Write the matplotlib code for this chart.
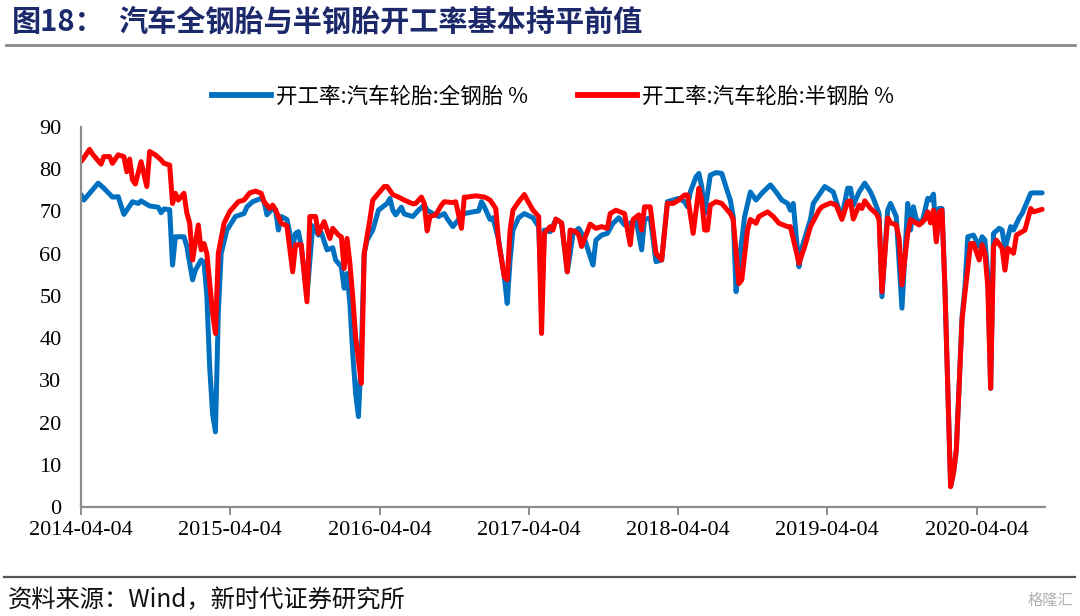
import matplotlib
matplotlib.use("Agg")
import matplotlib.pyplot as plt
import matplotlib.dates as mdates
import matplotlib.lines as mlines
import numpy as np
import pandas as pd

plt.rcParams['font.family'] = ['Noto Sans CJK SC', 'DejaVu Sans']

# ---------------- data (weeks since 2014-04-04, weekly observations) ----------------
start_date = "2014-04-04"

weeks_full = [0, 1, 3, 6, 8, 11, 13, 15, 18, 20, 21, 24, 27, 28, 29, 31, 32, 33, 36, 37,
              39, 40, 42, 43, 44, 45, 46, 47, 48, 49, 51, 54, 57, 58, 60, 63, 64, 65, 67, 68,
              69, 70, 72, 74, 75, 76, 77, 79, 81, 83, 84, 86, 88, 89, 91, 92, 93, 94, 95, 96,
              97, 98, 99, 100, 102, 104, 107, 108, 109, 110, 112, 113, 116, 118, 120, 121, 123, 125, 127, 128,
              130, 132, 134, 137, 139, 140, 141, 143, 144, 146, 148, 149, 150, 151, 153, 155, 158, 160, 161, 162,
              164, 166, 168, 170, 171, 172, 174, 176, 178, 179, 180, 182, 184, 186, 188, 190, 192, 194, 196, 197,
              199, 200, 201, 203, 205, 206, 209, 211, 212, 213, 215, 216, 217, 218, 220, 222, 224, 226, 227, 228,
              229, 230, 232, 234, 236, 238, 241, 243, 245, 247, 248, 249, 251, 252, 255, 256, 260, 263, 265, 266,
              268, 269, 270, 272, 274, 276, 277, 279, 280, 282, 283, 285, 287, 289, 290, 291, 292, 294, 296, 297,
              298, 299, 300, 301, 302, 303, 304, 305, 306, 308, 309, 310, 312, 314, 315, 316, 317, 318, 319, 321,
              322, 323, 325, 326, 328, 329, 332, 333, 336]
full_steel = [74.0, 72.7, 74.3, 76.7, 75.5, 73.4, 73.5, 69.3, 72.3, 71.9, 72.5, 71.3, 71.0, 69.7, 70.6, 70.4, 57.3, 64.0, 64.0, 61.7,
              53.8, 56.1, 58.5, 58.0, 50.0, 33.0, 22.0, 17.8, 46.0, 60.0, 65.6, 68.8, 69.5, 71.1, 72.3, 73.1, 72.3, 69.2, 70.7, 70.4,
              65.6, 68.8, 68.1, 61.7, 64.8, 65.2, 61.7, 50.0, 66.6, 64.4, 65.0, 60.9, 61.4, 58.5, 56.9, 51.8, 55.3, 48.2, 36.4, 26.9,
              21.4, 36.4, 60.1, 63.2, 65.6, 70.3, 71.9, 73.1, 70.3, 69.2, 71.0, 69.4, 68.8, 70.3, 71.5, 70.3, 69.5, 68.8, 69.5, 68.3,
              66.4, 68.1, 69.5, 69.9, 70.1, 72.3, 71.1, 68.1, 68.5, 63.2, 54.5, 48.2, 58.5, 65.6, 68.5, 69.5, 68.5, 66.4, 48.0, 65.6,
              65.2, 68.1, 67.3, 55.7, 60.0, 64.8, 66.0, 63.6, 59.3, 57.3, 63.2, 64.4, 64.8, 67.2, 68.5, 66.8, 67.2, 68.1, 60.9, 68.1,
              68.5, 63.2, 58.1, 58.5, 72.3, 72.5, 73.1, 72.3, 71.1, 74.6, 78.2, 79.0, 75.9, 69.5, 78.6, 79.2, 79.0, 74.7, 72.7, 68.8,
              51.0, 57.7, 68.8, 74.6, 72.7, 74.3, 76.3, 74.6, 72.7, 71.9, 70.3, 71.9, 56.9, 61.4, 68.1, 71.9, 75.9, 74.6, 70.3, 68.8,
              75.5, 75.5, 71.5, 74.6, 76.7, 74.6, 73.1, 69.5, 49.8, 70.3, 71.9, 68.8, 47.1, 71.9, 65.6, 71.1, 68.1, 67.3, 73.1, 72.7,
              74.1, 63.6, 70.7, 70.7, 52.2, 28.5, 5.0, 8.0, 13.5, 45.0, 52.0, 64.0, 64.4, 61.7, 64.0, 63.2, 55.0, 28.1, 64.8, 66.0,
              65.6, 61.2, 66.4, 65.6, 68.5, 69.5, 74.3, 74.4, 74.4]

weeks_semi = [0, 1, 3, 4, 7, 8, 10, 11, 13, 15, 16, 17, 18, 19, 21, 23, 24, 26, 28, 29,
              31, 32, 33, 34, 36, 37, 38, 39, 41, 42, 43, 44, 45, 46, 47, 48, 50, 52, 55, 57,
              59, 61, 63, 64, 66, 67, 68, 70, 72, 74, 75, 77, 79, 80, 82, 83, 85, 87, 88, 90,
              91, 92, 93, 94, 95, 96, 98, 99, 101, 102, 104, 106, 107, 109, 111, 113, 116, 117, 119, 120,
              121, 122, 124, 126, 127, 130, 131, 133, 134, 135, 138, 141, 142, 143, 145, 146, 148, 149, 150, 151,
              153, 155, 156, 158, 160, 161, 162, 164, 165, 166, 168, 170, 171, 173, 174, 175, 178, 180, 182, 184,
              185, 187, 190, 192, 193, 195, 196, 197, 199, 201, 203, 205, 207, 209, 211, 212, 214, 216, 217, 218,
              219, 220, 222, 224, 227, 228, 230, 231, 233, 234, 236, 237, 240, 242, 244, 247, 248, 251, 253, 255,
              258, 259, 262, 264, 266, 268, 269, 270, 272, 273, 274, 276, 278, 279, 280, 282, 283, 285, 286, 287,
              289, 290, 293, 295, 296, 297, 298, 299, 300, 301, 302, 303, 304, 305, 306, 308, 309, 311, 312, 314,
              315, 316, 317, 318, 319, 320, 322, 323, 324, 326, 327, 329, 330, 332, 333, 336]
semi_steel = [81.8, 82.7, 84.7, 83.6, 81.2, 83.0, 83.0, 81.4, 83.4, 83.0, 79.4, 82.4, 77.5, 76.5, 81.8, 75.9, 84.2, 83.4, 82.2, 81.4,
              81.0, 71.9, 74.3, 72.7, 74.3, 69.6, 67.2, 58.5, 66.8, 60.9, 62.4, 60.0, 53.0, 46.0, 41.1, 60.1, 67.2, 70.0, 72.3, 72.7,
              74.4, 74.8, 74.3, 72.3, 70.7, 71.5, 70.4, 67.2, 66.6, 55.7, 62.1, 62.1, 48.6, 68.8, 68.8, 64.8, 67.6, 63.6, 66.0, 64.4,
              64.0, 56.5, 63.6, 57.7, 49.8, 40.3, 29.3, 60.0, 68.1, 72.7, 74.3, 75.9, 75.9, 74.0, 73.4, 72.7, 71.8, 71.9, 73.4, 71.9,
              65.4, 68.8, 69.2, 71.5, 72.3, 72.1, 72.3, 66.0, 73.4, 73.4, 73.7, 73.4, 73.1, 72.7, 70.7, 62.8, 54.5, 53.8, 65.6, 70.3,
              72.3, 74.0, 72.7, 70.3, 68.8, 41.1, 64.8, 66.4, 65.6, 68.2, 67.3, 55.7, 65.6, 65.2, 64.4, 61.7, 67.0, 66.0, 66.4, 66.0,
              69.5, 70.3, 69.5, 62.1, 68.1, 69.2, 65.6, 71.1, 71.1, 60.1, 58.5, 71.9, 71.9, 72.7, 73.9, 73.9, 64.8, 75.5, 72.7, 65.6,
              65.6, 71.5, 72.3, 71.9, 69.5, 68.1, 52.9, 53.8, 65.6, 68.1, 67.2, 68.8, 69.9, 68.8, 67.2, 66.4, 66.4, 57.7, 61.7, 66.4,
              70.3, 71.1, 72.0, 71.5, 68.1, 72.3, 72.5, 68.2, 71.5, 70.7, 72.5, 70.7, 69.5, 68.1, 51.0, 68.5, 67.3, 66.8, 63.6, 52.6,
              64.8, 68.1, 66.8, 68.1, 69.9, 67.3, 70.3, 62.8, 69.9, 70.3, 52.2, 28.5, 4.8, 8.0, 13.5, 44.3, 50.6, 62.4, 62.4, 58.5,
              62.1, 60.1, 52.2, 28.1, 61.7, 63.2, 61.3, 56.1, 61.3, 60.1, 64.4, 65.2, 65.6, 70.7, 69.9, 70.5]

series_labels = ["开工率:汽车轮胎:全钢胎 %", "开工率:汽车轮胎:半钢胎 %"]
tick_labels = ["2014-04-04", "2015-04-04", "2016-04-04", "2017-04-04",
               "2018-04-04", "2019-04-04", "2020-04-04"]
y_ticks = [0, 10, 20, 30, 40, 50, 60, 70, 80, 90]

title_num = "图18："
title_text = "汽车全钢胎与半钢胎开工率基本持平前值"
source_text = "资料来源：Wind，新时代证券研究所"

# ---------------- figure ----------------
base = pd.Timestamp(start_date)
d_full = base + pd.to_timedelta(np.array(weeks_full) * 7, unit="D")
d_semi = base + pd.to_timedelta(np.array(weeks_semi) * 7, unit="D")

fig = plt.figure(figsize=(10.8, 6.16), dpi=100)
ax = fig.add_axes([81 / 1080, 1 - 507 / 616, (1045 - 81) / 1080, (507 - 127) / 616])

blue = "#0070C0"
red = "#FF0000"
ax.plot(d_full, full_steel, color=blue, lw=3.6, solid_joinstyle="round", solid_capstyle="round")
ax.plot(d_semi, semi_steel, color=red, lw=3.6, solid_joinstyle="round", solid_capstyle="round")

ax.set_ylim(0, 90)
ax.set_yticks(y_ticks)
ax.set_xlim(base, base + pd.Timedelta(days=337 * 7))
ax.set_xticks([pd.Timestamp(t) for t in tick_labels])
ax.set_xticklabels(tick_labels)

serif = ["Liberation Serif", "DejaVu Serif"]
for lab in ax.get_xticklabels() + ax.get_yticklabels():
    lab.set_fontfamily(serif)
    lab.set_fontsize(16)
    lab.set_color("#000000")

for s in ["top", "right"]:
    ax.spines[s].set_visible(False)
for s in ["left", "bottom"]:
    ax.spines[s].set_color("#8c8c8c")
    ax.spines[s].set_linewidth(1.6)
ax.tick_params(axis="x", direction="out", length=6, width=1.4, color="#8c8c8c", pad=4)
ax.tick_params(axis="y", direction="out", length=0, pad=14)

# legend
h1 = mlines.Line2D([], [], color=blue, lw=4.2)
h2 = mlines.Line2D([], [], color=red, lw=4.2)
fig.legend([h1, h2], series_labels, loc="center", bbox_to_anchor=(553 / 1080, 1 - 97 / 616),
           ncol=2, frameon=False, fontsize=15.5, handlelength=2.75, handletextpad=0.25,
           columnspacing=2.3)

# title and rules
fig.text(12 / 1080, 1 - 22 / 616, title_num, fontsize=21, fontweight="bold",
         color="#1C2A6B", va="center", ha="left")
fig.text(118 / 1080, 1 - 22 / 616, title_text, fontsize=21, fontweight="bold",
         color="#1C2A6B", va="center", ha="left")
fig.add_artist(mlines.Line2D([6 / 1080, 1075 / 1080], [1 - 45 / 616] * 2, color="#8a8a8a", lw=2.0))
fig.add_artist(mlines.Line2D([4 / 1080, 1075 / 1080], [1 - 577 / 616] * 2, color="#555555", lw=1.6))
fig.text(8 / 1080, 1 - 600 / 616, source_text, fontsize=17.5, color="#111111",
         va="center", ha="left")
fig.text(1073 / 1080, 1 - 600 / 616, "格隆汇", fontsize=11, color="#b0b0b0",
         va="center", ha="right")

fig.savefig("out.png", dpi=100)
